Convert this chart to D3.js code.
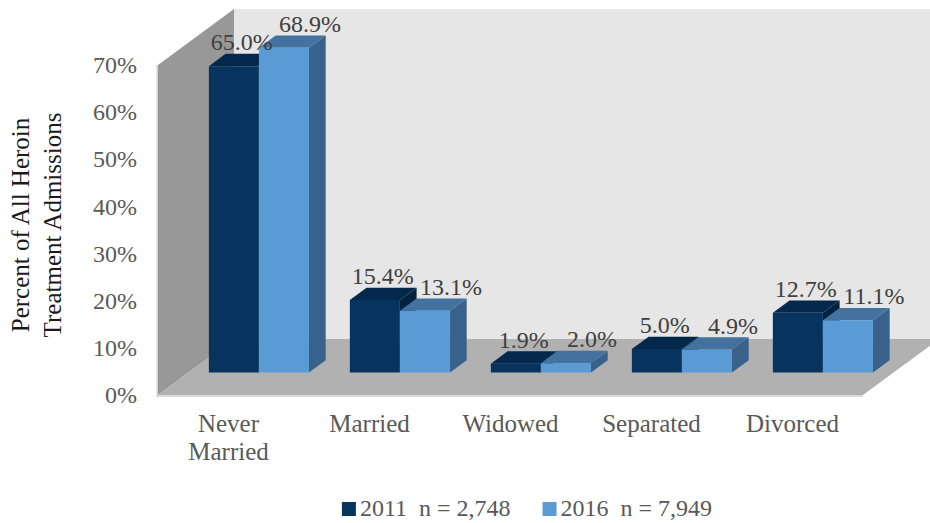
<!DOCTYPE html>
<html>
<head>
<meta charset="utf-8">
<script src="https://cdn.jsdelivr.net/npm/d3@7"></script>
<style>
  body { margin: 0; background: #fff; }
  text { font-family: "Liberation Serif", "Times New Roman", serif; }
</style>
</head>
<body>
<script>
var w = 930;
var h = 523;

// data
var categories = ["Never Married", "Married", "Widowed", "Separated", "Divorced"];
var series = ["2011", "2016"];
var seriesLabels = ["2011  n = 2,748", "2016  n = 7,949"];
var values2011 = [65.0, 15.4, 1.9, 5.0, 12.7];
var values2016 = [68.9, 13.1, 2.0, 4.9, 11.1];
var yTicks = [0, 10, 20, 30, 40, 50, 60, 70];

var values = { "2011": values2011, "2016": values2016 };

// colours per series: front, top, side
var colors = {
    "2011": { front: "#07345f", top: "#03284b", side: "#022340" },
    "2016": { front: "#5b9bd5", top: "#43729e", side: "#38628b" }
};
var labelShift = { "2011": 8, "2016": 26 };

// floor front edge and depth of the box
var left = 158, right = 863;
var DX = 76, DY = 56;      // full depth offset
var zFront = 0.4, zDepth = 0.22;  // bars plane and thickness

var yScale = d3.scaleLinear().domain([0, 70]).range([395, 65]);

var x0 = d3.scaleBand()
    .domain(categories)
    .range([left, right])
    .paddingInner(0.29)
    .paddingOuter(0.145);

var x1 = d3.scaleBand()
    .domain(series)
    .range([0, x0.bandwidth()]);

// oblique projection: front x, value, depth -> screen
function P(x, v, z) {
    return [x + z * DX, yScale(v) - z * DY];
}
function poly(pts) {
    return pts.map(function(p) { return p.join(","); }).join(" ");
}

var svg = d3.select("body")
    .append("svg")
    .attr("width", w)
    .attr("height", h);

// walls
svg.append("polygon")
    .attr("points", poly([P(left, 0, 1), P(left, 70, 1), P(right + 200, 70, 1), P(right + 200, 0, 1)]))
    .attr("fill", "#e6e6e6");
svg.append("polygon")
    .attr("points", poly([P(left, 0, 0), P(left, 70, 0), P(left, 70, 1), P(left, 0, 1)]))
    .attr("fill", "#989898");
svg.append("polygon")
    .attr("points", poly([P(left, 0, 0), P(right, 0, 0), P(right, 0, 1), P(left, 0, 1)]))
    .attr("fill", "#b1b1b1");
// thin edges of walls
svg.append("rect")
    .attr("x", left)
    .attr("y", yScale(0))
    .attr("width", right - left)
    .attr("height", 2)
    .attr("fill", "#dadada");
svg.append("rect")
    .attr("x", left - 1.5)
    .attr("y", yScale(70))
    .attr("width", 1.5)
    .attr("height", yScale(0) - yScale(70) + 2)
    .attr("fill", "#d2d2d2");

// bars
var bars = svg.append("g");
categories.forEach(function(c, i) {
    series.forEach(function(s) {
        var v = values[s][i];
        var xa = x0(c) + x1(s);
        var xb = xa + x1.bandwidth();
        var col = colors[s];
        var z1 = zFront, z2 = zFront + zDepth;
        bars.append("polygon")
            .attr("points", poly([P(xb, 0, z1), P(xb, v, z1), P(xb, v, z2), P(xb, 0, z2)]))
            .attr("fill", col.side);
        bars.append("polygon")
            .attr("points", poly([P(xa, v, z1), P(xb, v, z1), P(xb, v, z2), P(xa, v, z2)]))
            .attr("fill", col.top);
        bars.append("polygon")
            .attr("points", poly([P(xa, 0, z1), P(xb, 0, z1), P(xb, v, z1), P(xa, v, z1)]))
            .attr("fill", col.front);
    });
});

// data labels
categories.forEach(function(c, i) {
    series.forEach(function(s) {
        var v = values[s][i];
        var xm = x0(c) + x1(s) + x1.bandwidth() / 2;
        var p = P(xm, v, zFront);
        svg.append("text")
            .attr("x", p[0] + labelShift[s])
            .attr("y", p[1] - 16)
            .attr("text-anchor", "middle")
            .attr("font-size", "24px")
            .attr("fill", "#404040")
            .text(v.toFixed(1) + "%");
    });
});

// y axis
var yAxis = d3.axisLeft(yScale)
    .tickValues(yTicks)
    .tickSize(0)
    .tickPadding(21)
    .tickFormat(function(d) { return d + "%"; });
var gy = svg.append("g")
    .attr("transform", "translate(" + left + ",0)")
    .call(yAxis);
gy.select(".domain").remove();
gy.selectAll("text")
    .attr("font-family", "Liberation Serif, Times New Roman, serif")
    .attr("font-size", "24px")
    .attr("fill", "#595959");

// category labels
var cat = svg.append("g");
categories.forEach(function(c) {
    var t = cat.append("text")
        .attr("x", x0(c) + x0.bandwidth() / 2)
        .attr("y", 432)
        .attr("text-anchor", "middle")
        .attr("font-size", "25px")
        .attr("fill", "#595959");
    var words = c === "Never Married" ? ["Never", "Married"] : [c];
    words.forEach(function(wd, j) {
        t.append("tspan")
            .attr("x", x0(c) + x0.bandwidth() / 2)
            .attr("dy", j === 0 ? 0 : 28)
            .text(wd);
    });
});

// y title
var title = svg.append("text")
    .attr("transform", "translate(29,225) rotate(-90)")
    .attr("text-anchor", "middle")
    .attr("font-size", "25px")
    .attr("fill", "#1a1a1a");
title.append("tspan").attr("x", 0).attr("dy", 0).text("Percent of All Heroin");
title.append("tspan").attr("x", 0).attr("dy", 32).text("Treatment Admissions");

// legend
var legend = svg.append("g");
var lx = 0;
series.forEach(function(s, i) {
    var g = legend.append("g").attr("transform", "translate(" + lx + ",0)");
    g.append("rect")
        .attr("x", 0)
        .attr("y", 502)
        .attr("width", 14)
        .attr("height", 14)
        .attr("fill", colors[s].front);
    var t = g.append("text")
        .attr("x", 18)
        .attr("y", 516)
        .attr("font-size", "24px")
        .attr("fill", "#595959")
        .attr("xml:space", "preserve")
        .style("white-space", "pre")
        .text(seriesLabels[i]);
    lx += 18 + t.node().getComputedTextLength() + 32;
});
var lw = lx - 32;
legend.attr("transform", "translate(" + (527 - lw / 2) + ",0)");
</script>
</body>
</html>
